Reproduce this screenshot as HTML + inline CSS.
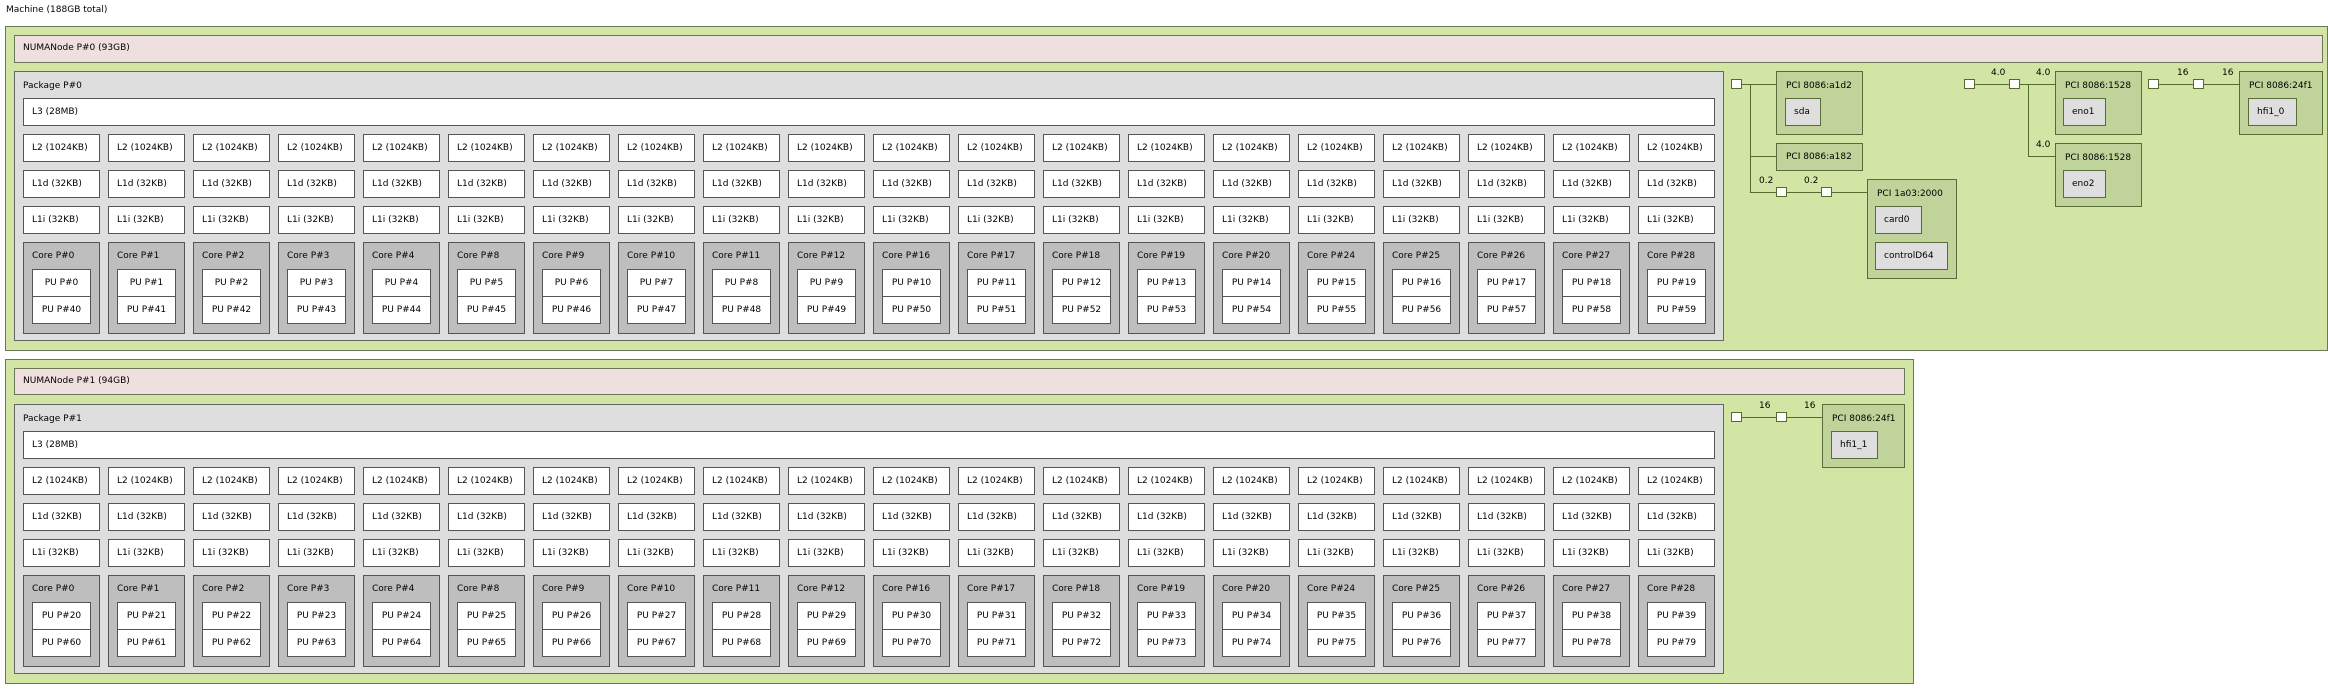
<!DOCTYPE html>
<html><head><meta charset="utf-8">
<style>
*{box-sizing:border-box;margin:0;padding:0}
body{width:2328px;height:690px;background:#fff;position:relative;overflow:hidden;font-family:"DejaVu Sans","Liberation Sans",sans-serif;font-size:9px;color:#000}
div{position:absolute}
.g{background:#d2e5a4;border:1px solid #6b7755}
.numa{background:#efdfde;border:1px solid #6b7755;padding-left:8px;line-height:25px}
.pkg{background:#dedede;border:1px solid #666}
.lbl{position:absolute;white-space:nowrap}
.b{left:0;width:77px;height:28px;background:#fff;border:1px solid #555;padding-left:8px;line-height:26px;white-space:nowrap}
.core{left:0;top:108px;width:77px;height:92px;background:#bebebe;border:1px solid #555}
.core span{position:absolute;left:8px;top:8px;white-space:nowrap}
.pu{left:8px;width:59px;height:28px;background:#fff;border:1px solid #555;text-align:center;line-height:26px;white-space:nowrap}
.col{top:134px;width:77px;height:200px}
.pci{background:#c0d39a;border:1px solid #5a6b3a}
.pci .t{position:absolute;left:9px;top:9px;white-space:nowrap}
.os{background:#dedede;border:1px solid #5a6b3a;padding-left:8px;line-height:26px;white-space:nowrap;height:28px}
.sq{width:11px;height:10px;background:#fff;border:1px solid #556b2f}
.h{height:1px;background:#556b2f}
.v{width:1px;background:#556b2f}
.n{white-space:nowrap}
</style></head><body>
<div class="lbl" style="left:6px;top:5px">Machine (188GB total)</div>

<div class="g" style="left:5px;top:26px;width:2323px;height:325px"></div>
<div class="g" style="left:5px;top:359px;width:1909px;height:325px"></div>

<div class="numa" style="left:14px;top:35px;width:2309px;height:28px">NUMANode P#0 (93GB)</div>
<div class="numa" style="left:14px;top:368px;width:1891px;height:27px">NUMANode P#1 (94GB)</div>

<!-- Package 0 -->
<div style="left:0;top:0;width:1730px;height:345px">
<div class="pkg" style="left:14px;top:71px;width:1710px;height:270px"><span class="lbl" style="left:8px;top:9px">Package P#0</span></div>
<div class="b" style="left:23px;top:98px;width:1692px">L3 (28MB)</div>
<div class="col" style="left:23px"><div class="b" style="top:0">L2 (1024KB)</div><div class="b" style="top:36px">L1d (32KB)</div><div class="b" style="top:72px">L1i (32KB)</div><div class="core"><span>Core P#0</span><div class="pu" style="top:26px">PU P#0</div><div class="pu" style="top:53px">PU P#40</div></div></div>
<div class="col" style="left:108px"><div class="b" style="top:0">L2 (1024KB)</div><div class="b" style="top:36px">L1d (32KB)</div><div class="b" style="top:72px">L1i (32KB)</div><div class="core"><span>Core P#1</span><div class="pu" style="top:26px">PU P#1</div><div class="pu" style="top:53px">PU P#41</div></div></div>
<div class="col" style="left:193px"><div class="b" style="top:0">L2 (1024KB)</div><div class="b" style="top:36px">L1d (32KB)</div><div class="b" style="top:72px">L1i (32KB)</div><div class="core"><span>Core P#2</span><div class="pu" style="top:26px">PU P#2</div><div class="pu" style="top:53px">PU P#42</div></div></div>
<div class="col" style="left:278px"><div class="b" style="top:0">L2 (1024KB)</div><div class="b" style="top:36px">L1d (32KB)</div><div class="b" style="top:72px">L1i (32KB)</div><div class="core"><span>Core P#3</span><div class="pu" style="top:26px">PU P#3</div><div class="pu" style="top:53px">PU P#43</div></div></div>
<div class="col" style="left:363px"><div class="b" style="top:0">L2 (1024KB)</div><div class="b" style="top:36px">L1d (32KB)</div><div class="b" style="top:72px">L1i (32KB)</div><div class="core"><span>Core P#4</span><div class="pu" style="top:26px">PU P#4</div><div class="pu" style="top:53px">PU P#44</div></div></div>
<div class="col" style="left:448px"><div class="b" style="top:0">L2 (1024KB)</div><div class="b" style="top:36px">L1d (32KB)</div><div class="b" style="top:72px">L1i (32KB)</div><div class="core"><span>Core P#8</span><div class="pu" style="top:26px">PU P#5</div><div class="pu" style="top:53px">PU P#45</div></div></div>
<div class="col" style="left:533px"><div class="b" style="top:0">L2 (1024KB)</div><div class="b" style="top:36px">L1d (32KB)</div><div class="b" style="top:72px">L1i (32KB)</div><div class="core"><span>Core P#9</span><div class="pu" style="top:26px">PU P#6</div><div class="pu" style="top:53px">PU P#46</div></div></div>
<div class="col" style="left:618px"><div class="b" style="top:0">L2 (1024KB)</div><div class="b" style="top:36px">L1d (32KB)</div><div class="b" style="top:72px">L1i (32KB)</div><div class="core"><span>Core P#10</span><div class="pu" style="top:26px">PU P#7</div><div class="pu" style="top:53px">PU P#47</div></div></div>
<div class="col" style="left:703px"><div class="b" style="top:0">L2 (1024KB)</div><div class="b" style="top:36px">L1d (32KB)</div><div class="b" style="top:72px">L1i (32KB)</div><div class="core"><span>Core P#11</span><div class="pu" style="top:26px">PU P#8</div><div class="pu" style="top:53px">PU P#48</div></div></div>
<div class="col" style="left:788px"><div class="b" style="top:0">L2 (1024KB)</div><div class="b" style="top:36px">L1d (32KB)</div><div class="b" style="top:72px">L1i (32KB)</div><div class="core"><span>Core P#12</span><div class="pu" style="top:26px">PU P#9</div><div class="pu" style="top:53px">PU P#49</div></div></div>
<div class="col" style="left:873px"><div class="b" style="top:0">L2 (1024KB)</div><div class="b" style="top:36px">L1d (32KB)</div><div class="b" style="top:72px">L1i (32KB)</div><div class="core"><span>Core P#16</span><div class="pu" style="top:26px">PU P#10</div><div class="pu" style="top:53px">PU P#50</div></div></div>
<div class="col" style="left:958px"><div class="b" style="top:0">L2 (1024KB)</div><div class="b" style="top:36px">L1d (32KB)</div><div class="b" style="top:72px">L1i (32KB)</div><div class="core"><span>Core P#17</span><div class="pu" style="top:26px">PU P#11</div><div class="pu" style="top:53px">PU P#51</div></div></div>
<div class="col" style="left:1043px"><div class="b" style="top:0">L2 (1024KB)</div><div class="b" style="top:36px">L1d (32KB)</div><div class="b" style="top:72px">L1i (32KB)</div><div class="core"><span>Core P#18</span><div class="pu" style="top:26px">PU P#12</div><div class="pu" style="top:53px">PU P#52</div></div></div>
<div class="col" style="left:1128px"><div class="b" style="top:0">L2 (1024KB)</div><div class="b" style="top:36px">L1d (32KB)</div><div class="b" style="top:72px">L1i (32KB)</div><div class="core"><span>Core P#19</span><div class="pu" style="top:26px">PU P#13</div><div class="pu" style="top:53px">PU P#53</div></div></div>
<div class="col" style="left:1213px"><div class="b" style="top:0">L2 (1024KB)</div><div class="b" style="top:36px">L1d (32KB)</div><div class="b" style="top:72px">L1i (32KB)</div><div class="core"><span>Core P#20</span><div class="pu" style="top:26px">PU P#14</div><div class="pu" style="top:53px">PU P#54</div></div></div>
<div class="col" style="left:1298px"><div class="b" style="top:0">L2 (1024KB)</div><div class="b" style="top:36px">L1d (32KB)</div><div class="b" style="top:72px">L1i (32KB)</div><div class="core"><span>Core P#24</span><div class="pu" style="top:26px">PU P#15</div><div class="pu" style="top:53px">PU P#55</div></div></div>
<div class="col" style="left:1383px"><div class="b" style="top:0">L2 (1024KB)</div><div class="b" style="top:36px">L1d (32KB)</div><div class="b" style="top:72px">L1i (32KB)</div><div class="core"><span>Core P#25</span><div class="pu" style="top:26px">PU P#16</div><div class="pu" style="top:53px">PU P#56</div></div></div>
<div class="col" style="left:1468px"><div class="b" style="top:0">L2 (1024KB)</div><div class="b" style="top:36px">L1d (32KB)</div><div class="b" style="top:72px">L1i (32KB)</div><div class="core"><span>Core P#26</span><div class="pu" style="top:26px">PU P#17</div><div class="pu" style="top:53px">PU P#57</div></div></div>
<div class="col" style="left:1553px"><div class="b" style="top:0">L2 (1024KB)</div><div class="b" style="top:36px">L1d (32KB)</div><div class="b" style="top:72px">L1i (32KB)</div><div class="core"><span>Core P#27</span><div class="pu" style="top:26px">PU P#18</div><div class="pu" style="top:53px">PU P#58</div></div></div>
<div class="col" style="left:1638px"><div class="b" style="top:0">L2 (1024KB)</div><div class="b" style="top:36px">L1d (32KB)</div><div class="b" style="top:72px">L1i (32KB)</div><div class="core"><span>Core P#28</span><div class="pu" style="top:26px">PU P#19</div><div class="pu" style="top:53px">PU P#59</div></div></div>
</div>

<!-- Package 1 -->
<div style="left:0;top:333px;width:1730px;height:345px">
<div class="pkg" style="left:14px;top:71px;width:1710px;height:270px"><span class="lbl" style="left:8px;top:9px">Package P#1</span></div>
<div class="b" style="left:23px;top:98px;width:1692px">L3 (28MB)</div>
<div class="col" style="left:23px"><div class="b" style="top:0">L2 (1024KB)</div><div class="b" style="top:36px">L1d (32KB)</div><div class="b" style="top:72px">L1i (32KB)</div><div class="core"><span>Core P#0</span><div class="pu" style="top:26px">PU P#20</div><div class="pu" style="top:53px">PU P#60</div></div></div>
<div class="col" style="left:108px"><div class="b" style="top:0">L2 (1024KB)</div><div class="b" style="top:36px">L1d (32KB)</div><div class="b" style="top:72px">L1i (32KB)</div><div class="core"><span>Core P#1</span><div class="pu" style="top:26px">PU P#21</div><div class="pu" style="top:53px">PU P#61</div></div></div>
<div class="col" style="left:193px"><div class="b" style="top:0">L2 (1024KB)</div><div class="b" style="top:36px">L1d (32KB)</div><div class="b" style="top:72px">L1i (32KB)</div><div class="core"><span>Core P#2</span><div class="pu" style="top:26px">PU P#22</div><div class="pu" style="top:53px">PU P#62</div></div></div>
<div class="col" style="left:278px"><div class="b" style="top:0">L2 (1024KB)</div><div class="b" style="top:36px">L1d (32KB)</div><div class="b" style="top:72px">L1i (32KB)</div><div class="core"><span>Core P#3</span><div class="pu" style="top:26px">PU P#23</div><div class="pu" style="top:53px">PU P#63</div></div></div>
<div class="col" style="left:363px"><div class="b" style="top:0">L2 (1024KB)</div><div class="b" style="top:36px">L1d (32KB)</div><div class="b" style="top:72px">L1i (32KB)</div><div class="core"><span>Core P#4</span><div class="pu" style="top:26px">PU P#24</div><div class="pu" style="top:53px">PU P#64</div></div></div>
<div class="col" style="left:448px"><div class="b" style="top:0">L2 (1024KB)</div><div class="b" style="top:36px">L1d (32KB)</div><div class="b" style="top:72px">L1i (32KB)</div><div class="core"><span>Core P#8</span><div class="pu" style="top:26px">PU P#25</div><div class="pu" style="top:53px">PU P#65</div></div></div>
<div class="col" style="left:533px"><div class="b" style="top:0">L2 (1024KB)</div><div class="b" style="top:36px">L1d (32KB)</div><div class="b" style="top:72px">L1i (32KB)</div><div class="core"><span>Core P#9</span><div class="pu" style="top:26px">PU P#26</div><div class="pu" style="top:53px">PU P#66</div></div></div>
<div class="col" style="left:618px"><div class="b" style="top:0">L2 (1024KB)</div><div class="b" style="top:36px">L1d (32KB)</div><div class="b" style="top:72px">L1i (32KB)</div><div class="core"><span>Core P#10</span><div class="pu" style="top:26px">PU P#27</div><div class="pu" style="top:53px">PU P#67</div></div></div>
<div class="col" style="left:703px"><div class="b" style="top:0">L2 (1024KB)</div><div class="b" style="top:36px">L1d (32KB)</div><div class="b" style="top:72px">L1i (32KB)</div><div class="core"><span>Core P#11</span><div class="pu" style="top:26px">PU P#28</div><div class="pu" style="top:53px">PU P#68</div></div></div>
<div class="col" style="left:788px"><div class="b" style="top:0">L2 (1024KB)</div><div class="b" style="top:36px">L1d (32KB)</div><div class="b" style="top:72px">L1i (32KB)</div><div class="core"><span>Core P#12</span><div class="pu" style="top:26px">PU P#29</div><div class="pu" style="top:53px">PU P#69</div></div></div>
<div class="col" style="left:873px"><div class="b" style="top:0">L2 (1024KB)</div><div class="b" style="top:36px">L1d (32KB)</div><div class="b" style="top:72px">L1i (32KB)</div><div class="core"><span>Core P#16</span><div class="pu" style="top:26px">PU P#30</div><div class="pu" style="top:53px">PU P#70</div></div></div>
<div class="col" style="left:958px"><div class="b" style="top:0">L2 (1024KB)</div><div class="b" style="top:36px">L1d (32KB)</div><div class="b" style="top:72px">L1i (32KB)</div><div class="core"><span>Core P#17</span><div class="pu" style="top:26px">PU P#31</div><div class="pu" style="top:53px">PU P#71</div></div></div>
<div class="col" style="left:1043px"><div class="b" style="top:0">L2 (1024KB)</div><div class="b" style="top:36px">L1d (32KB)</div><div class="b" style="top:72px">L1i (32KB)</div><div class="core"><span>Core P#18</span><div class="pu" style="top:26px">PU P#32</div><div class="pu" style="top:53px">PU P#72</div></div></div>
<div class="col" style="left:1128px"><div class="b" style="top:0">L2 (1024KB)</div><div class="b" style="top:36px">L1d (32KB)</div><div class="b" style="top:72px">L1i (32KB)</div><div class="core"><span>Core P#19</span><div class="pu" style="top:26px">PU P#33</div><div class="pu" style="top:53px">PU P#73</div></div></div>
<div class="col" style="left:1213px"><div class="b" style="top:0">L2 (1024KB)</div><div class="b" style="top:36px">L1d (32KB)</div><div class="b" style="top:72px">L1i (32KB)</div><div class="core"><span>Core P#20</span><div class="pu" style="top:26px">PU P#34</div><div class="pu" style="top:53px">PU P#74</div></div></div>
<div class="col" style="left:1298px"><div class="b" style="top:0">L2 (1024KB)</div><div class="b" style="top:36px">L1d (32KB)</div><div class="b" style="top:72px">L1i (32KB)</div><div class="core"><span>Core P#24</span><div class="pu" style="top:26px">PU P#35</div><div class="pu" style="top:53px">PU P#75</div></div></div>
<div class="col" style="left:1383px"><div class="b" style="top:0">L2 (1024KB)</div><div class="b" style="top:36px">L1d (32KB)</div><div class="b" style="top:72px">L1i (32KB)</div><div class="core"><span>Core P#25</span><div class="pu" style="top:26px">PU P#36</div><div class="pu" style="top:53px">PU P#76</div></div></div>
<div class="col" style="left:1468px"><div class="b" style="top:0">L2 (1024KB)</div><div class="b" style="top:36px">L1d (32KB)</div><div class="b" style="top:72px">L1i (32KB)</div><div class="core"><span>Core P#26</span><div class="pu" style="top:26px">PU P#37</div><div class="pu" style="top:53px">PU P#77</div></div></div>
<div class="col" style="left:1553px"><div class="b" style="top:0">L2 (1024KB)</div><div class="b" style="top:36px">L1d (32KB)</div><div class="b" style="top:72px">L1i (32KB)</div><div class="core"><span>Core P#27</span><div class="pu" style="top:26px">PU P#38</div><div class="pu" style="top:53px">PU P#78</div></div></div>
<div class="col" style="left:1638px"><div class="b" style="top:0">L2 (1024KB)</div><div class="b" style="top:36px">L1d (32KB)</div><div class="b" style="top:72px">L1i (32KB)</div><div class="core"><span>Core P#28</span><div class="pu" style="top:26px">PU P#39</div><div class="pu" style="top:53px">PU P#79</div></div></div>
</div>

<!-- IO tree NUMA0 : group 1 -->
<div class="h" style="left:1742px;top:84px;width:35px"></div>
<div class="v" style="left:1750px;top:84px;height:109px"></div>
<div class="h" style="left:1750px;top:156px;width:27px"></div>
<div class="h" style="left:1750px;top:192px;width:117px"></div>
<div class="sq" style="left:1731px;top:79px"></div>
<div class="pci" style="left:1776px;top:71px;width:87px;height:64px"><span class="t">PCI 8086:a1d2</span><div class="os" style="left:8px;top:26px;width:36px">sda</div></div>
<div class="pci" style="left:1776px;top:143px;width:87px;height:28px"><span class="t" style="top:8px">PCI 8086:a182</span></div>
<div class="n" style="left:1759px;top:176px">0.2</div>
<div class="sq" style="left:1776px;top:187px"></div>
<div class="n" style="left:1804px;top:176px">0.2</div>
<div class="sq" style="left:1821px;top:187px"></div>
<div class="pci" style="left:1867px;top:179px;width:90px;height:100px"><span class="t">PCI 1a03:2000</span><div class="os" style="left:7px;top:26px;width:47px">card0</div><div class="os" style="left:7px;top:62px;width:73px">controlD64</div></div>

<!-- group 2 -->
<div class="h" style="left:1970px;top:84px;width:85px"></div>
<div class="v" style="left:2028px;top:84px;height:73px"></div>
<div class="h" style="left:2028px;top:156px;width:27px"></div>
<div class="sq" style="left:1964px;top:79px"></div>
<div class="n" style="left:1991px;top:68px">4.0</div>
<div class="sq" style="left:2009px;top:79px"></div>
<div class="n" style="left:2036px;top:68px">4.0</div>
<div class="n" style="left:2036px;top:140px">4.0</div>
<div class="pci" style="left:2055px;top:71px;width:87px;height:64px"><span class="t">PCI 8086:1528</span><div class="os" style="left:7px;top:26px;width:43px">eno1</div></div>
<div class="pci" style="left:2055px;top:143px;width:87px;height:64px"><span class="t">PCI 8086:1528</span><div class="os" style="left:7px;top:26px;width:43px">eno2</div></div>

<!-- group 3 -->
<div class="h" style="left:2155px;top:84px;width:85px"></div>
<div class="sq" style="left:2148px;top:79px"></div>
<div class="n" style="left:2177px;top:68px">16</div>
<div class="sq" style="left:2193px;top:79px"></div>
<div class="n" style="left:2222px;top:68px">16</div>
<div class="pci" style="left:2239px;top:71px;width:84px;height:64px"><span class="t">PCI 8086:24f1</span><div class="os" style="left:8px;top:26px;width:49px">hfi1_0</div></div>

<!-- IO NUMA1 -->
<div class="h" style="left:1738px;top:417px;width:85px"></div>
<div class="sq" style="left:1731px;top:412px"></div>
<div class="n" style="left:1759px;top:401px">16</div>
<div class="sq" style="left:1776px;top:412px"></div>
<div class="n" style="left:1804px;top:401px">16</div>
<div class="pci" style="left:1822px;top:404px;width:83px;height:64px"><span class="t">PCI 8086:24f1</span><div class="os" style="left:8px;top:26px;width:47px">hfi1_1</div></div>
</body></html>
